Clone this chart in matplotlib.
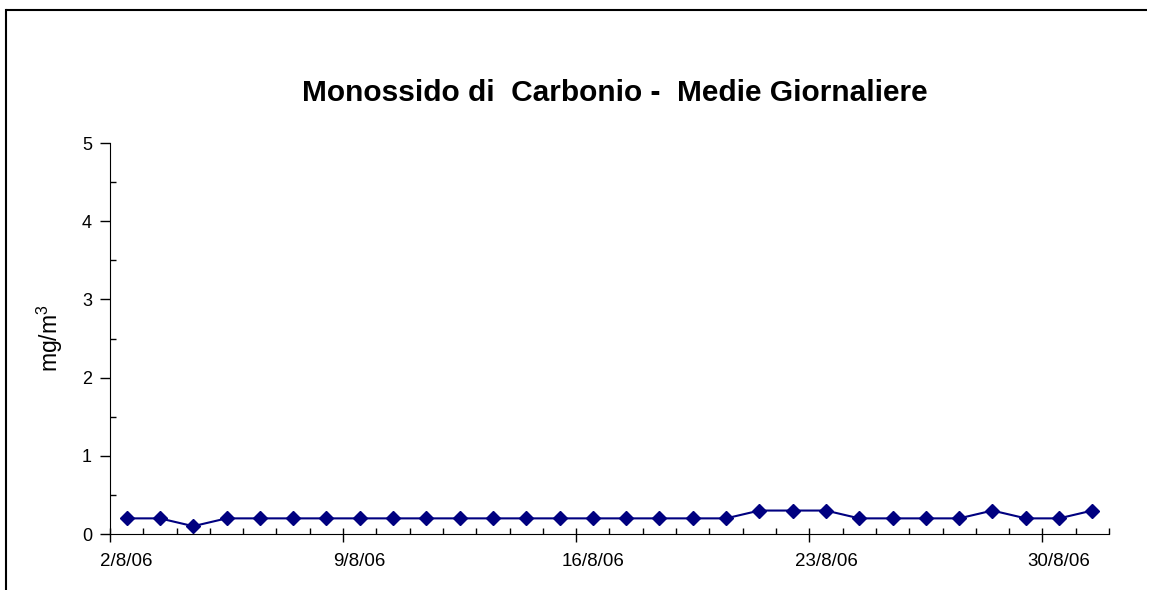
import matplotlib
matplotlib.use('Agg')
import matplotlib.pyplot as plt
from matplotlib.lines import Line2D

plt.rcParams['font.family'] = ['Liberation Sans', 'DejaVu Sans']
plt.rcParams['mathtext.default'] = 'regular'

# giorni di agosto 2006 e medie giornaliere CO (mg/m3)
giorni = list(range(2, 32))
valori = [0.2, 0.2, 0.1, 0.2, 0.2, 0.2, 0.2, 0.2, 0.2, 0.2,
          0.2, 0.2, 0.2, 0.2, 0.2, 0.2, 0.2, 0.2, 0.2, 0.3,
          0.3, 0.3, 0.2, 0.2, 0.2, 0.2, 0.3, 0.2, 0.2, 0.3]
giorni_etichetta = [2, 9, 16, 23, 30]
etichette = [f'{g}/8/06' for g in giorni_etichetta]

fig = plt.figure(figsize=(11.49, 5.9), dpi=100)
ax = fig.add_axes([0.0957, 0.0949, 0.8695, 0.6627])

ax.plot(giorni, valori, color='#000080', marker='D', markersize=7, linewidth=1.5)

ax.set_xlim(giorni[0] - 0.5, giorni[-1] + 0.5)
ax.set_ylim(0, 5)

# etichette al centro della categoria, tacche ai bordi
ax.set_xticks(giorni_etichetta, etichette)
ax.tick_params(axis='x', which='major', length=0, pad=14, labelsize=13.5)
ax.set_xticks([g - 0.5 for g in giorni] + [giorni[-1] + 0.5], minor=True)
ax.tick_params(axis='x', which='minor', direction='in', length=4, width=1)
sec = ax.secondary_xaxis('bottom')
sec.set_xticks([g - 0.5 for g in giorni_etichetta], [''] * len(giorni_etichetta))
sec.tick_params(direction='out', length=6, width=1)
sec.spines['bottom'].set_visible(False)

ax.set_yticks([0, 1, 2, 3, 4, 5])
ax.set_yticks([0.5, 1.5, 2.5, 3.5, 4.5], minor=True)
ax.tick_params(axis='y', which='major', direction='out', length=7, width=1, labelsize=13, pad=6)
ax.tick_params(axis='y', which='minor', direction='in', length=4, width=1)

ax.spines['top'].set_visible(False)
ax.spines['right'].set_visible(False)

ax.set_ylabel('mg/m$^3$', fontsize=16.5, labelpad=12)
fig.text(0.535, 0.842, 'Monossido di  Carbonio -  Medie Giornaliere',
         ha='center', va='center', fontsize=21.5, fontweight='bold')

# cornice del grafico (solo lati sinistro e superiore visibili)
fig.add_artist(Line2D([0.0048, 0.0048], [0.0, 0.983],
                      transform=fig.transFigure, color='black', linewidth=1.5))
fig.add_artist(Line2D([0.0048, 0.998], [0.983, 0.983], solid_capstyle='butt',
                      transform=fig.transFigure, color='black', linewidth=1.5))

fig.savefig('out.png', dpi=100)
